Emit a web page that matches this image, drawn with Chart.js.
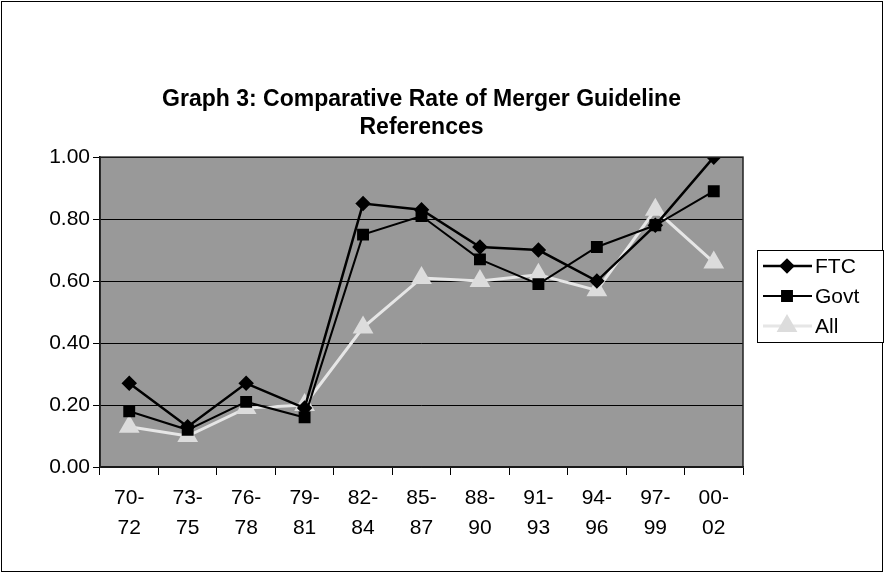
<!DOCTYPE html>
<html>
<head>
<meta charset="utf-8">
<script src="https://cdn.jsdelivr.net/npm/chart.js@4.4.0/dist/chart.umd.min.js"></script>
<style>
  html, body { margin: 0; padding: 0; background: #fff; }
  #wrap { width: 888px; height: 574px; }
</style>
</head>
<body>
<div id="wrap"><canvas id="chart" width="888" height="574"></canvas></div>
<script>
// data
const periods = [['70-','72'],['73-','75'],['76-','78'],['79-','81'],['82-','84'],['85-','87'],
                 ['88-','90'],['91-','93'],['94-','96'],['97-','99'],['00-','02']];
const ftcRate  = [0.27, 0.13, 0.27, 0.19, 0.85, 0.83, 0.71, 0.70, 0.60, 0.78, 1.00];
const govtRate = [0.18, 0.12, 0.21, 0.16, 0.75, 0.81, 0.67, 0.59, 0.71, 0.78, 0.89];
const allRate  = [0.13, 0.10, 0.19, 0.20, 0.45, 0.61, 0.60, 0.62, 0.57, 0.83, 0.66];
const yTicks = [0, 0.2, 0.4, 0.6, 0.8, 1.0];

const FONT = 'Arial, "Liberation Sans", sans-serif';

// grey plot background + frame around the whole chart
const backdrop = {
  id: 'backdrop',
  beforeDraw(chart) {
    const {ctx, chartArea: a} = chart;
    ctx.save();
    ctx.fillStyle = '#fff';
    ctx.fillRect(0, 0, chart.width, chart.height);
    ctx.fillStyle = '#999';
    ctx.fillRect(a.left, a.top, a.right - a.left, a.bottom - a.top);
    ctx.strokeStyle = '#000';
    ctx.lineWidth = 1;
    ctx.strokeRect(1.5, 1.5, 881, 570);
    ctx.restore();
  },
  afterDatasetsDraw(chart) {
    const {ctx, chartArea: a} = chart;
    ctx.save();
    ctx.strokeStyle = '#222';
    ctx.lineWidth = 1.5;
    ctx.strokeRect(a.left, a.top, a.right - a.left, a.bottom - a.top);
    ctx.restore();
  }
};

// boxed legend drawn from the datasets, line + marker like the original
const boxLegend = {
  id: 'boxLegend',
  afterDraw(chart) {
    const {ctx} = chart;
    const x = 757, y = 250, w = 126, h = 92;
    ctx.save();
    ctx.fillStyle = '#fff';
    ctx.fillRect(x, y, w, h);
    ctx.strokeStyle = '#000';
    ctx.lineWidth = 1;
    ctx.strokeRect(x + 0.5, y + 0.5, w, h);
    chart.data.datasets.forEach((ds, i) => {
      const ry = y + 16 + i * 30;
      ctx.strokeStyle = ds.borderColor;
      ctx.lineWidth = ds.borderWidth;
      ctx.beginPath();
      ctx.moveTo(x + 6, ry);
      ctx.lineTo(x + 55, ry);
      ctx.stroke();
      ctx.fillStyle = ds.pointBackgroundColor;
      ctx.strokeStyle = ds.pointBorderColor;
      Chart.helpers.drawPoint(ctx, {
        pointStyle: ds.pointStyle, radius: ds.pointRadius, rotation: 0,
        borderWidth: 1
      }, x + 30, ry);
      ctx.fillStyle = '#000';
      ctx.font = '21px ' + FONT;
      ctx.textBaseline = 'middle';
      ctx.fillText(ds.label, x + 58, ry + 1);
    });
    ctx.restore();
  }
};

function series(label, data, color, pointColor, style, radius, width) {
  return {
    label, data,
    borderColor: color,
    borderWidth: width,
    pointStyle: style,
    pointRadius: radius,
    pointHoverRadius: radius,
    pointBackgroundColor: pointColor,
    pointBorderColor: pointColor,
    tension: 0
  };
}

new Chart(document.getElementById('chart'), {
  type: 'line',
  data: {
    labels: periods,
    datasets: [
      series('FTC', ftcRate, '#000', '#000', 'rectRot', 6, 2.5),
      series('Govt', govtRate, '#000', '#000', 'rect', 7, 2),
      series('All', allRate, '#e6e6e6', '#dcdcdc', 'triangle', 9, 3)
    ]
  },
  options: {
    responsive: false,
    animation: false,
    layout: { padding: { left: 0, right: 145, top: 0, bottom: 0 } },
    plugins: {
      legend: { display: false },
      tooltip: { enabled: false },
      title: {
        display: true,
        fullSize: false,
        text: ['Graph 3: Comparative Rate of Merger Guideline', 'References'],
        color: '#000',
        font: { family: FONT, size: 23, weight: 'bold', lineHeight: 1.22 },
        padding: { top: 86, bottom: 15 }
      }
    },
    scales: {
      x: {
        offset: true,
        afterFit(s) { s.height = 107; },
        grid: { display: true, drawOnChartArea: false, color: '#000', tickLength: 8, offset: true },
        border: { color: '#000', width: 1.5 },
        ticks: { color: '#000', font: { family: FONT, size: 21, lineHeight: 1.4 }, padding: 9, maxRotation: 0, autoSkip: false }
      },
      y: {
        min: 0, max: 1,
        afterFit(s) { s.width = 100; },
        afterBuildTicks(s) { s.ticks = yTicks.map(v => ({ value: v })); },
        grid: { color: '#000', lineWidth: 1, tickLength: 7 },
        border: { color: '#000', width: 1.5 },
        ticks: {
          color: '#000',
          font: { family: FONT, size: 21 },
          padding: 3,
          callback: v => v.toFixed(2)
        }
      }
    }
  },
  plugins: [backdrop, boxLegend]
});
</script>
</body>
</html>
